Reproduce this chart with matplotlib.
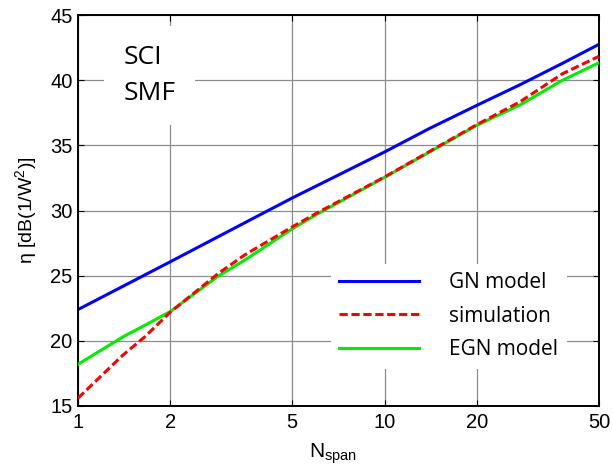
import numpy as np
import matplotlib.pyplot as plt
from matplotlib.ticker import FixedLocator, NullLocator

# Значення
n_gn = [1, 2, 3, 4, 5, 7, 10, 14, 20, 27.6, 38, 50]
eta_gn = [22.4, 26.07, 28.24, 29.78, 30.97, 32.68, 34.5, 36.3, 38.08, 39.65, 41.3, 42.76]

n_sim = [1, 1.4, 1.65, 2, 2.86, 3.5, 5, 6, 10, 20, 27.6, 38, 50]
eta_sim = [15.6, 18.9, 20.3, 22.2, 25.15, 26.6, 28.75, 29.8, 32.58, 36.6, 38.34, 40.5, 41.84]

n_egn = [1, 1.4, 1.7, 2, 2.86, 3.5, 5, 6, 10, 20, 27.6, 38, 50]
eta_egn = [18.2, 20.3, 21.35, 22.25, 24.95, 26.2, 28.6, 29.7, 32.55, 36.55, 38.1, 40.0, 41.35]

x_ticks = [1, 2, 5, 10, 20, 50]
y_ticks = [15, 20, 25, 30, 35, 40, 45]

plt.rcParams['font.family'] = ['Liberation Sans', 'DejaVu Sans']

fig = plt.figure(figsize=(6.13, 4.74), dpi=100)
ax = fig.add_axes([0.1272, 0.1435, 0.8498, 0.8245])

ax.plot(n_gn, eta_gn, color='#0000ff', lw=2.2, label='GN model')
ax.plot(n_sim, eta_sim, color='#ff0000', lw=2.2, ls=(0, (2.7, 1.2)), label='simulation', zorder=4)
ax.plot(n_egn, eta_egn, color='#00ee00', lw=2.2, label='EGN model', zorder=3)

ax.set_xscale('log')
ax.set_xlim(1, 50)
ax.set_ylim(15, 45)
ax.xaxis.set_major_locator(FixedLocator(x_ticks))
ax.xaxis.set_minor_locator(NullLocator())
ax.set_xticklabels([str(t) for t in x_ticks])
ax.set_yticks(y_ticks)
ax.tick_params(direction='in', labelsize=14.5, length=4, width=0.8, top=True, right=True)
ax.tick_params(axis='x', pad=5)
ax.tick_params(axis='y', pad=4)
ax.grid(True, color='#8c8c8c', lw=0.9)
for s in ax.spines.values():
    s.set_linewidth(1.4)

ax.set_xlabel(r'N$_{\mathregular{span}}$', fontsize=15)
ax.xaxis.set_label_coords(0.49, -0.09)
ax.set_ylabel('η [dB(1/W$^{\\mathregular{2}}$)]', fontsize=14)
ax.yaxis.set_label_coords(-0.073, 0.5)

ax.text(0.087, 0.846, 'SCI\nSMF', transform=ax.transAxes, fontsize=19,
        family=['Open Sans', 'DejaVu Sans'], linespacing=1.55, va='center',
        bbox=dict(facecolor='white', edgecolor='none', pad=14), zorder=5)

leg = ax.legend(loc='center', bbox_to_anchor=(0.712, 0.23), frameon=True,
                fancybox=False, edgecolor='none', framealpha=1,
                handlelength=3.85, handletextpad=1.44, labelspacing=0.61,
                prop={'family': 'Open Sans', 'size': 15})
leg.set_zorder(6)

fig.savefig('out.png', dpi=100)
